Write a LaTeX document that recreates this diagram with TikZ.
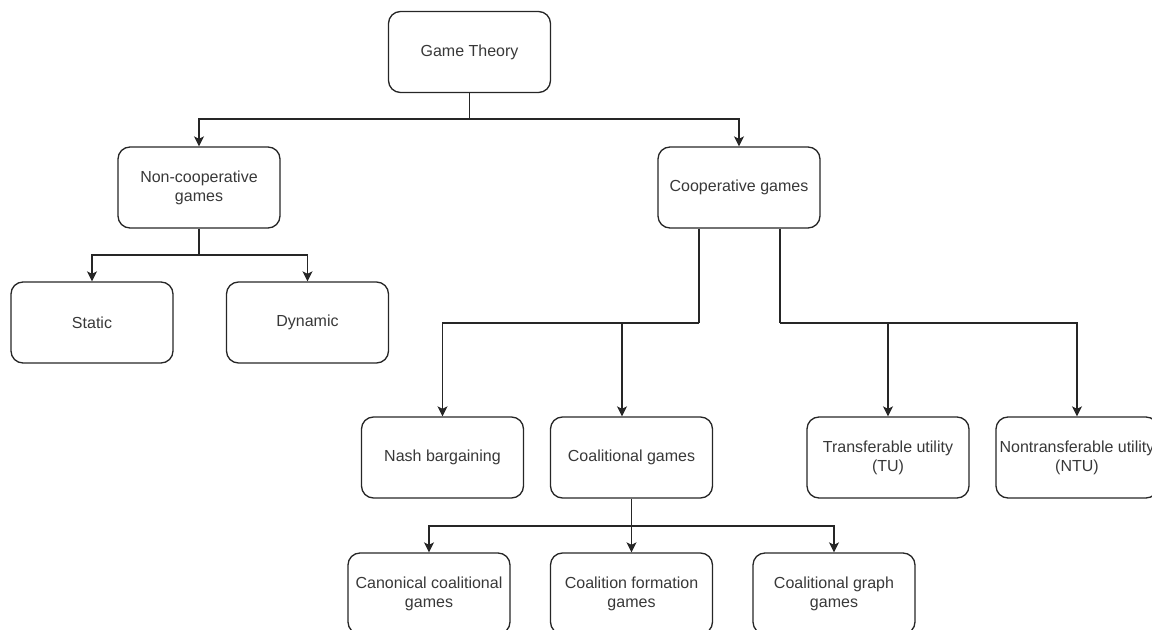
\documentclass[tikz,border=0pt]{standalone}
\usepackage{fontspec}
\setmainfont{Liberation Sans}
\usetikzlibrary{arrows.meta}
\begin{document}
\begin{tikzpicture}[x=1bp,y=-1bp,
  box/.style={draw=black!85, line width=1.3bp, rounded corners=12bp,
    minimum width=162bp, minimum height=81bp, inner sep=0pt, align=center,
    text=black!78, font=\fontsize{16bp}{19bp}\selectfont},
  link/.style={draw=black!85, line width=1.3bp},
  arr/.style={link, -{Stealth[length=10bp,width=10bp,inset=2.5bp]}}]
\useasboundingbox (0,0) rectangle (1152,630);
\clip (0,0) rectangle (1152,630);

% taxonomy boxes
\node[box] (gt)    at (469.5,52)    {Game Theory};
\node[box] (nc)    at (199,187.5)   {Non-cooperative\\games};
\node[box] (cg)    at (739,187.5)   {Cooperative games};
\node[box] (st)    at (92,322.5)    {Static};
\node[box] (dy)    at (307.5,322.5) {Dynamic};
\node[box] (nb)    at (442.5,457.5) {Nash bargaining};
\node[box] (cl)    at (631.5,457.5) {Coalitional games};
\node[box] (tu)    at (888,457.5)   {Transferable utility\\(TU)};
\node[box] (ntu)   at (1077,457.5)  {Nontransferable utility\\(NTU)};
\node[box] (can)   at (429,593.5)   {Canonical coalitional\\games};
\node[box] (form)  at (631.5,593.5) {Coalition formation\\games};
\node[box] (graph) at (834,593.5)   {Coalitional graph\\games};

% junction points of the orthogonal connectors
\coordinate (j1)  at (469.5,119);
\coordinate (j2)  at (199,255);
\coordinate (cgL) at (699,323);
\coordinate (cgM) at (622,323);
\coordinate (cgR) at (780,323);
\coordinate (j3)  at (631.5,526);

% Game Theory -> two branches
\draw[link] (gt.south) -- (j1);
\draw[arr] (j1) -| (nc.north);
\draw[arr] (j1) -| (cg.north);

% Non-cooperative -> static / dynamic
\draw[link] (nc.south) -- (j2);
\draw[arr] (j2) -| (st.north);
\draw[arr] (j2) -| (dy.north);

% Cooperative -> four sub-classes
\draw[link] (cg.south -| cgL) -- (cgL);
\draw[arr] (cgL) -| (nb.north);
\draw[arr] (cgM) -- (cgM |- cl.north);
\draw[link] (cg.south -| cgR) -- (cgR);
\draw[arr] (cgR) -| (tu.north);
\draw[arr] (cgR) -| (ntu.north);

% Coalitional games -> three types
\draw[link] (cl.south) -- (j3);
\draw[arr] (j3) -| (can.north);
\draw[arr] (j3) -- (form.north);
\draw[arr] (j3) -| (graph.north);
\end{tikzpicture}
\end{document}
